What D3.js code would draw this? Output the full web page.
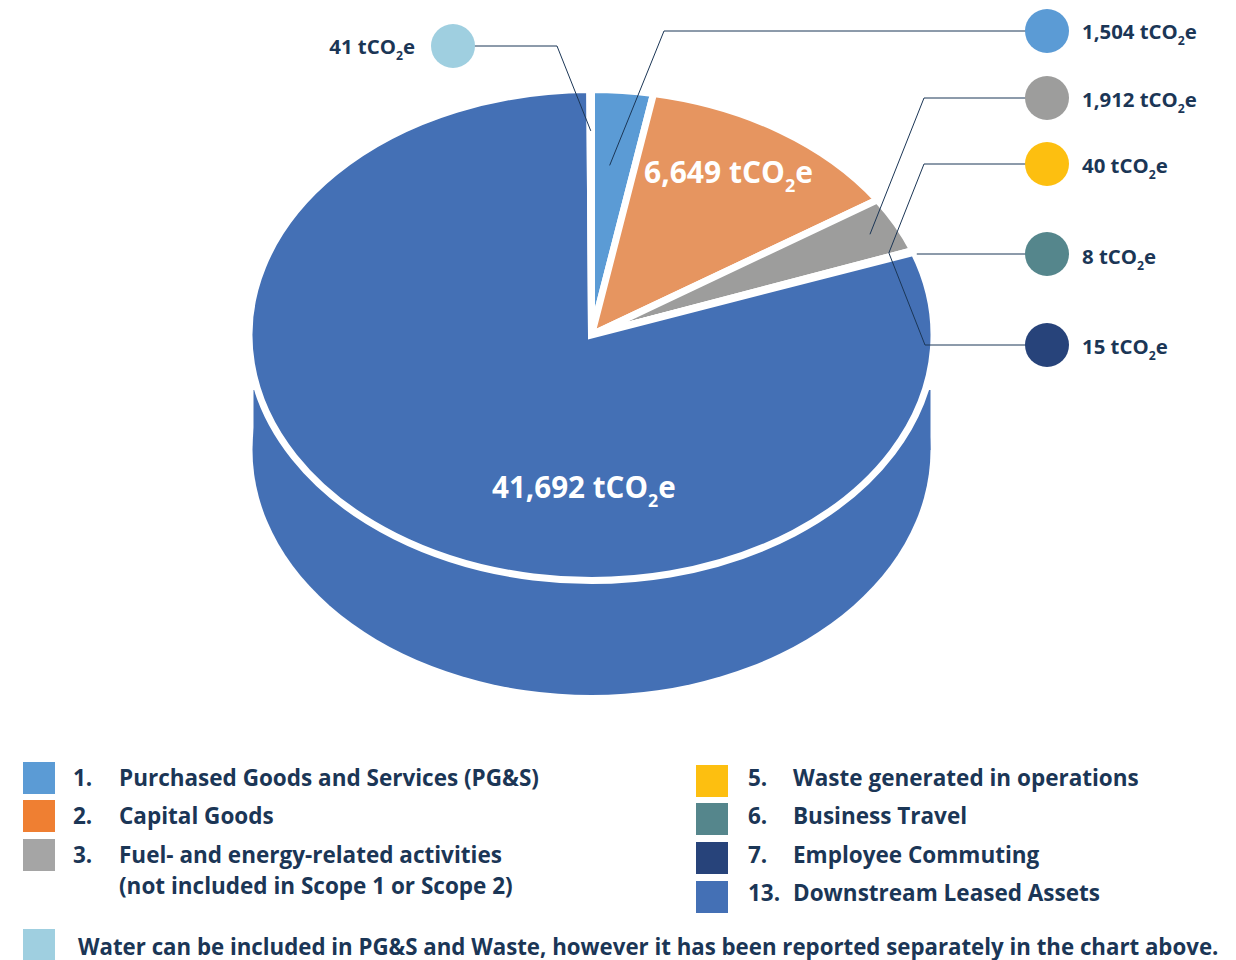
<!DOCTYPE html>
<html>
<head>
<meta charset="utf-8">
<title>Scope 3 emissions</title>
<script src="https://cdn.jsdelivr.net/npm/d3@7/dist/d3.min.js"></script>
<style>
html, body { margin: 0; padding: 0; background: #fff; }
svg { display: block; }
text { font-family: "Open Sans", sans-serif; font-weight: 700; fill: #1b3656; }
</style>
</head>
<body>
<script>
// clockwise from 12 o'clock
var sliceNames = ["PG&S", "Capital Goods", "Fuel and energy", "Waste", "Business Travel", "Employee Commuting", "Downstream Leased Assets", "Water"];
var sliceValues = [1504, 6649, 1912, 40, 8, 15, 41692, 41];
var sliceColors = ["#5b9bd5", "#e69560", "#9d9d9c", "#fdbf10", "#55868c", "#27437a", "#4470b5", "#9fcfe0"];

var calloutSlices = [7, 0, 2, 3, 4, 5];
var calloutColors = ["#9fcfe0", "#5b9bd5", "#9d9d9c", "#fdbf10", "#55868c", "#27437a"];

var legendNumbers = ["1.", "2.", "3.", "", "5.", "6.", "7.", "13."];
var legendLabels = ["Purchased Goods and Services (PG&S)", "Capital Goods", "Fuel- and energy-related activities", "(not included in Scope 1 or Scope 2)",
  "Waste generated in operations", "Business Travel", "Employee Commuting", "Downstream Leased Assets"];
var legendColors = ["#5b9bd5", "#ef7f32", "#a5a5a5", null, "#fdbf10", "#55868c", "#27437a", "#4470b5"];
var waterNote = "Water can be included in PG&S and Waste, however it has been reported separately in the chart above.";

var width = 1236, height = 960;
var cx = 591.5, cy = 335, rx = 339, ry = 243, depth = 115, gap = 7;

var svg = d3.select("body").append("svg").attr("width", width).attr("height", height);

var fmt = d3.format(",");
function unitLabel(sel, value, x, y, size, anchor) {
  var t = sel.append("text").attr("x", x).attr("y", y).attr("font-size", size).attr("text-anchor", anchor || "start");
  t.append("tspan").text(fmt(value) + " tCO");
  t.append("tspan").text("2").attr("font-size", size * 0.6).attr("dy", size * 0.3);
  t.append("tspan").text("e").attr("dy", -size * 0.3);
  return t;
}

// extruded side: lower ellipse + a bit of wall up to where the top face covers it
var squash = ry / rx;
var side = svg.append("g");
side.append("path")
  .attr("transform", "translate(" + cx + "," + (cy + depth) + ") scale(1," + ((ry + 2) / rx) + ")")
  .attr("d", d3.arc().innerRadius(0).outerRadius(rx).startAngle(0).endAngle(2 * Math.PI)())
  .attr("fill", sliceColors[6]);
side.append("rect").attr("x", cx - rx + 1).attr("y", cy + 55).attr("width", 2 * rx - 1).attr("height", depth - 55).attr("fill", sliceColors[6]);

// top face, the white stroke makes the gaps between slices
var pie = d3.pie().sort(null).value(function(d) { return d; });
var arcs = pie(sliceValues);
var arc = d3.arc().innerRadius(0).outerRadius(rx + gap / 2);

svg.append("g")
  .attr("transform", "translate(" + cx + "," + cy + ") scale(1," + squash + ")")
  .selectAll("path").data(arcs).enter().append("path")
  .attr("d", arc)
  .attr("fill", function(d, i) { return sliceColors[i]; })
  .attr("stroke", "#fff")
  .attr("stroke-width", gap)
  .attr("vector-effect", "non-scaling-stroke");

// point on the top face: slice i, along = share of its sweep, frac = share of the radius
function facePoint(i, along, frac) {
  var a = arcs[i].startAngle + along * (arcs[i].endAngle - arcs[i].startAngle);
  return [cx + frac * rx * Math.sin(a), cy - frac * ry * Math.cos(a)];
}

var calloutX = [453, 1047, 1047, 1047, 1047, 1047];
var calloutY = [46, 31, 98, 164, 254, 345];
var labelY = [54, 39, 107, 173, 264, 354];
var elbowX = [557, 664, 924, 924, null, 925];
// the leaders for 40 and 15 end on the edge of the grey slice
var endSlice = [7, 0, 2, 2, 4, 2];
var endAlong = [0.5, 0.42, 0.5, 0.93, 0.5, 0.93];
var endFrac = [0.84, 0.70, 0.92, 0.94, 1.02, 0.94];

var line = d3.line();
calloutSlices.forEach(function(s, i) {
  var pts = [[calloutX[i], calloutY[i]]];
  if (elbowX[i] !== null) pts.push([elbowX[i], calloutY[i]]);
  var end = facePoint(endSlice[i], endAlong[i], endFrac[i]);
  if (elbowX[i] === null) end = [end[0], calloutY[i]];
  pts.push(end);
  svg.append("path").attr("d", line(pts)).attr("fill", "none").attr("stroke", "#1b3656").attr("stroke-width", 1);
});

svg.selectAll("circle.callout").data(calloutSlices).enter().append("circle")
  .attr("class", "callout")
  .attr("cx", function(d, i) { return calloutX[i]; })
  .attr("cy", function(d, i) { return calloutY[i]; })
  .attr("r", 22)
  .attr("fill", function(d, i) { return calloutColors[i]; });

calloutSlices.forEach(function(s, i) {
  if (i === 0) unitLabel(svg, sliceValues[s], 415, labelY[i], 20.4, "end");
  else unitLabel(svg, sliceValues[s], 1082, labelY[i], 20.4);
});

// big labels on the slices
unitLabel(svg, sliceValues[1], 644, 183, 30).selectAll("tspan").style("fill", "#fff");
unitLabel(svg, sliceValues[6], 492, 498, 29.6).selectAll("tspan").style("fill", "#fff");

// legend
var legendX = [23, 23, 23, 23, 696, 696, 696, 696];
var numberX = [73, 73, 73, 73, 748, 748, 748, 748];
var labelX = [119, 119, 119, 119, 793, 793, 793, 793];
var baseY = [785.5, 823.5, 862.5, 893.5, 785.5, 823.5, 862.5, 900.5];
var swatchY = [762, 800, 839, null, 765, 803, 842, 881];

legendLabels.forEach(function(t, i) {
  if (legendColors[i]) svg.append("rect").attr("x", legendX[i]).attr("y", swatchY[i]).attr("width", 32).attr("height", 32).attr("fill", legendColors[i]);
  svg.append("text").attr("x", numberX[i]).attr("y", baseY[i]).attr("font-size", 22.5).text(legendNumbers[i]);
  svg.append("text").attr("x", labelX[i]).attr("y", baseY[i]).attr("font-size", 22.5).text(t);
});

svg.append("rect").attr("x", 23).attr("y", 929).attr("width", 32).attr("height", 31).attr("fill", "#9fcfe0");
svg.append("text").attr("x", 78).attr("y", 954.5).attr("font-size", 22.25).text(waterNote);
</script>
</body>
</html>
